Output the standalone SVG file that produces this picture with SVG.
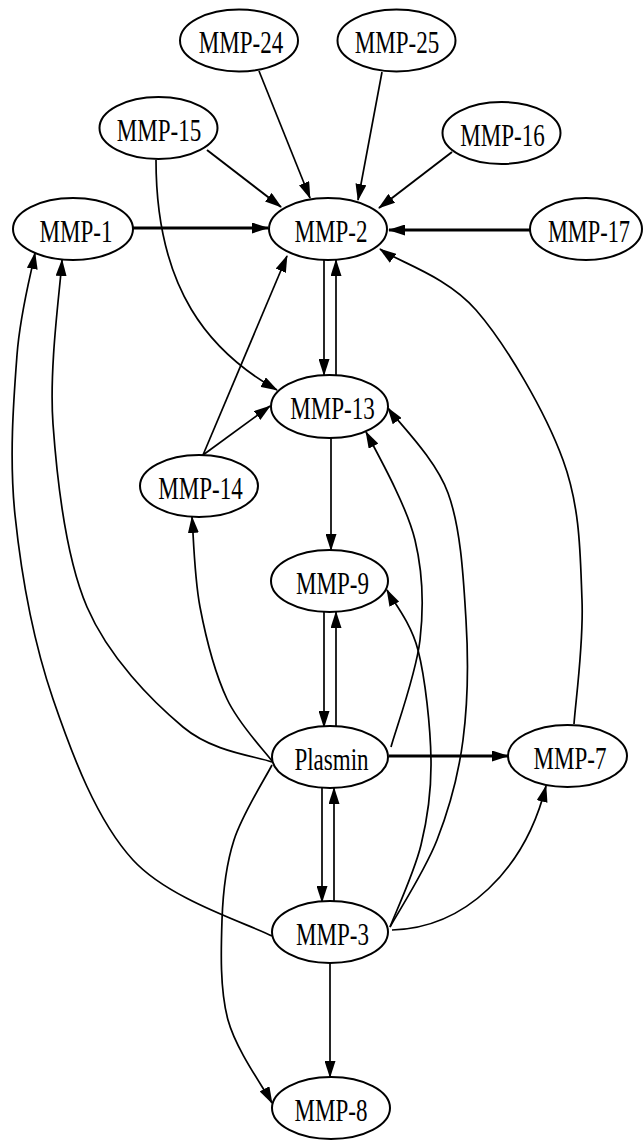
<svg xmlns="http://www.w3.org/2000/svg" width="644" height="1140" viewBox="0 0 644 1140">
<style>
.e{fill:none;stroke:#000;stroke-width:1.7;marker-end:url(#ah)}
.t{stroke-width:2.8}
.m{stroke-width:2}
.n ellipse{fill:#fff;stroke:#000;stroke-width:2}
.n text{font-family:"Liberation Serif","Times New Roman",serif;font-size:32px;text-anchor:middle;fill:#000}
</style>
<defs>
<marker id="ah" markerUnits="userSpaceOnUse" markerWidth="17" markerHeight="11" viewBox="0 0 17 11" refX="16" refY="5.5" orient="auto"><path d="M0,0 L17,5.5 L0,11 z" fill="#000"/></marker>
</defs>
<rect width="644" height="1140" fill="#fff"/>
<g id="connectors">
<path class="e" d="M259,71 L310,198"/>
<path class="e" d="M382,72 L358,200"/>
<path class="e m" d="M207,150 L281,207"/>
<path class="e m" d="M452,152 L379,208"/>
<path class="e t" d="M133,228 L268,228"/>
<path class="e t" d="M530,230 L389,230"/>
<path class="e" d="M156,160 C156,290 210,352 277,390"/>
<path class="e" d="M324,260 L324,375"/>
<path class="e" d="M336,375 L336,260"/>
<path class="e" d="M203,455 L287,256"/>
<path class="e" d="M203,455 L270,406"/>
<path class="e" d="M574,724 C575.3,703.3 583.8,644 582,600 C580.2,556 580.7,508.3 563,460 C545.3,411.7 506.2,344.7 476,310 C445.8,275.3 397.7,261.7 380,249"/>
<path class="e" d="M331,438 L331,550"/>
<path class="e" d="M324,612 L324,727"/>
<path class="e" d="M336,726 L336,612"/>
<path class="e" d="M391,747 C395.8,729.2 416,674.5 420,640 C424,605.5 423,573.3 415,540 C407,506.7 379.2,456.7 366,432"/>
<path class="e" d="M272,761 C264.5,750.7 239,724.7 227,699 C215,673.3 205.8,637.3 200,607 C194.2,576.7 193.3,532 192,517"/>
<path class="e" d="M272,762 C257.2,756.2 213.8,752.8 183,727 C152.2,701.2 108.7,657.5 87,607 C65.3,556.5 57.2,482 53,424 C48.8,366 60.5,286.5 62,260"/>
<path class="e t" d="M389,756 L508,756"/>
<path class="e" d="M322,788 L322,902"/>
<path class="e" d="M334,901 L334,788"/>
<path class="e" d="M272,765 C265.7,777.5 242.3,814.2 234,840 C225.7,865.8 223,890 222,920 C221,950 219.7,989.5 228,1020 C236.3,1050.5 264.7,1089.2 272,1103"/>
<path class="e" d="M272,936 C247.2,923.3 169.2,899.5 133,860 C96.8,820.5 72.7,756.5 53,699 C33.3,641.5 21,572.3 15,515 C9,457.7 13.7,398.7 17,355 C20.3,311.3 32,270 35,253"/>
<path class="e" d="M390,927 C397.8,912.5 424.8,871.2 437,840 C449.2,808.8 458.2,776.7 463,740 C467.8,703.3 468.5,661.2 466,620 C463.5,578.8 461,528.3 448,493 C435,457.7 398,422.2 388,408"/>
<path class="e" d="M390,927 C395.2,913.3 414.2,872.8 421,845 C427.8,817.2 431.5,792.5 431,760 C430.5,727.5 425.3,678.3 418,650 C410.7,621.7 392.2,600 387,590"/>
<path class="e" d="M392,930 C465,928 525,870 546,786"/>
<path class="e" d="M330,963 L330,1077"/>
</g>
<g id="MMP-24" class="n"><ellipse cx="239" cy="40.5" rx="59" ry="31"/><text transform="translate(241,53) scale(0.72,1)">MMP-24</text></g>
<g id="MMP-25" class="n"><ellipse cx="396.5" cy="40.5" rx="59" ry="31"/><text transform="translate(397,53) scale(0.72,1)">MMP-25</text></g>
<g id="MMP-15" class="n"><ellipse cx="158.5" cy="128" rx="59" ry="31"/><text transform="translate(159,140.5) scale(0.72,1)">MMP-15</text></g>
<g id="MMP-16" class="n"><ellipse cx="501.5" cy="133" rx="59" ry="31"/><text transform="translate(502.5,145.5) scale(0.72,1)">MMP-16</text></g>
<g id="MMP-1" class="n"><ellipse cx="73" cy="229" rx="60" ry="31"/><text transform="translate(76,242) scale(0.72,1)">MMP-1</text></g>
<g id="MMP-2" class="n"><ellipse cx="328" cy="229" rx="59" ry="31"/><text transform="translate(331,242) scale(0.72,1)">MMP-2</text></g>
<g id="MMP-17" class="n"><ellipse cx="586" cy="229" rx="56" ry="31"/><text transform="translate(589,242) scale(0.7,1)">MMP-17</text></g>
<g id="MMP-13" class="n"><ellipse cx="329.5" cy="406.5" rx="58.5" ry="31.5"/><text transform="translate(332.5,419) scale(0.72,1)">MMP-13</text></g>
<g id="MMP-14" class="n"><ellipse cx="199" cy="486" rx="59" ry="31"/><text transform="translate(200.5,498.5) scale(0.72,1)">MMP-14</text></g>
<g id="MMP-9" class="n"><ellipse cx="329.5" cy="581" rx="58.5" ry="31"/><text transform="translate(332.5,593.5) scale(0.72,1)">MMP-9</text></g>
<g id="Plasmin" class="n"><ellipse cx="330" cy="757" rx="58" ry="31"/><text transform="translate(331.5,769.5) scale(0.72,1)">Plasmin</text></g>
<g id="MMP-7" class="n"><ellipse cx="567.5" cy="756" rx="59.5" ry="31"/><text transform="translate(570,768.5) scale(0.72,1)">MMP-7</text></g>
<g id="MMP-3" class="n"><ellipse cx="330" cy="932" rx="58" ry="31"/><text transform="translate(332.5,944.5) scale(0.72,1)">MMP-3</text></g>
<g id="MMP-8" class="n"><ellipse cx="331" cy="1108" rx="59" ry="31"/><text transform="translate(331,1120.5) scale(0.72,1)">MMP-8</text></g>
</svg>
